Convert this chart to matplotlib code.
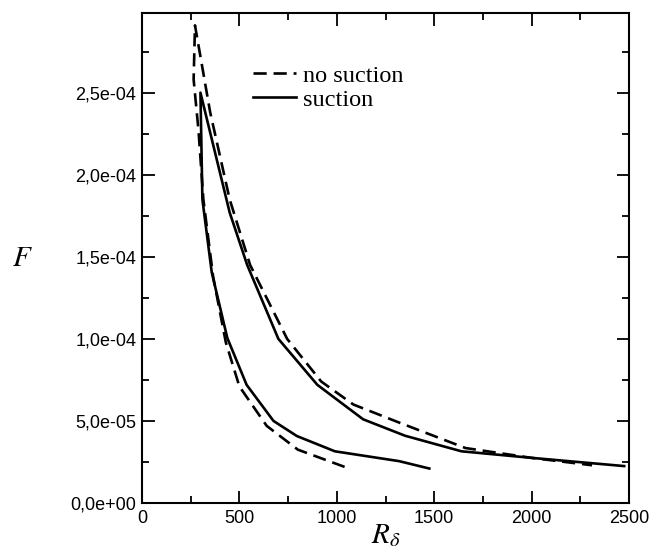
import matplotlib
matplotlib.use('Agg')
import matplotlib.pyplot as plt
from matplotlib.ticker import MultipleLocator, FuncFormatter

# neutral curves (lower branch -> peak -> upper branch)
r_no_suction = [1040, 800, 640, 500, 430, 365, 315, 290, 265, 272,
                350, 450, 555, 745, 920, 1085, 1320, 1660, 2000, 2310]
f_no_suction = [2.2e-5, 3.25e-5, 4.7e-5, 7.1e-5, 9.8e-5, 1.38e-4, 1.85e-4, 2.27e-4, 2.58e-4, 2.91e-4,
                2.38e-4, 1.85e-4, 1.45e-4, 1.0e-4, 7.4e-5, 6.0e-5, 4.9e-5, 3.35e-5, 2.75e-5, 2.3e-5]

r_suction = [1475, 1320, 990, 795, 675, 537, 438, 358, 310, 300,
             450, 540, 700, 900, 1135, 1350, 1640, 2000, 2475]
f_suction = [2.1e-5, 2.55e-5, 3.15e-5, 4.08e-5, 5.0e-5, 7.2e-5, 1.005e-4, 1.405e-4, 1.85e-4, 2.5e-4,
             1.77e-4, 1.45e-4, 1.0e-4, 7.2e-5, 5.1e-5, 4.1e-5, 3.15e-5, 2.75e-5, 2.25e-5]

plt.rcParams['mathtext.fontset'] = 'stix'

fig = plt.figure(figsize=(6.62, 5.53), dpi=100)
ax = fig.add_axes([0.2145, 0.0904, 0.7357, 0.886])

ax.plot(r_no_suction, f_no_suction, color='black', lw=1.9, linestyle=(0, (5, 2.6)),
        label='no suction')
ax.plot(r_suction, f_suction, color='black', lw=1.9, label='suction')

ax.set_xlim(0, 2500)
ax.set_ylim(0, 2.985e-4)
ax.xaxis.set_major_locator(MultipleLocator(500))
ax.xaxis.set_minor_locator(MultipleLocator(250))
ax.yaxis.set_major_locator(MultipleLocator(5e-5))
ax.yaxis.set_minor_locator(MultipleLocator(2.5e-5))
ax.yaxis.set_major_formatter(FuncFormatter(lambda v, p: f'{v:.1e}'.replace('.', ',')))

ax.tick_params(which='both', direction='in', top=True, right=True, width=1.3)
ax.tick_params(which='major', length=9)
ax.tick_params(which='minor', length=5)
ax.tick_params(axis='x', pad=5)
ax.tick_params(axis='y', pad=4)
for lab in ax.get_xticklabels() + ax.get_yticklabels():
    lab.set_fontfamily('Liberation Sans')
    lab.set_fontsize(13)
for s in ax.spines.values():
    s.set_linewidth(1.5)

ax.set_xlabel(r'$R_\delta$', fontsize=21)
ax.xaxis.set_label_coords(0.5, -0.065)
ax.xaxis.label.set_va('center')
ax.set_ylabel(r'$F$', fontsize=21, rotation=0)
ax.yaxis.set_label_coords(-0.246, 0.5)
ax.yaxis.label.set_va('center')

ax.legend(loc='upper left', bbox_to_anchor=(0.228, 0.895), frameon=False,
          borderpad=0, borderaxespad=0, handlelength=1.75, handletextpad=0.3,
          labelspacing=0.1, prop={'family': 'Liberation Serif', 'size': 17.5})

fig.savefig('out.png', dpi=100)
